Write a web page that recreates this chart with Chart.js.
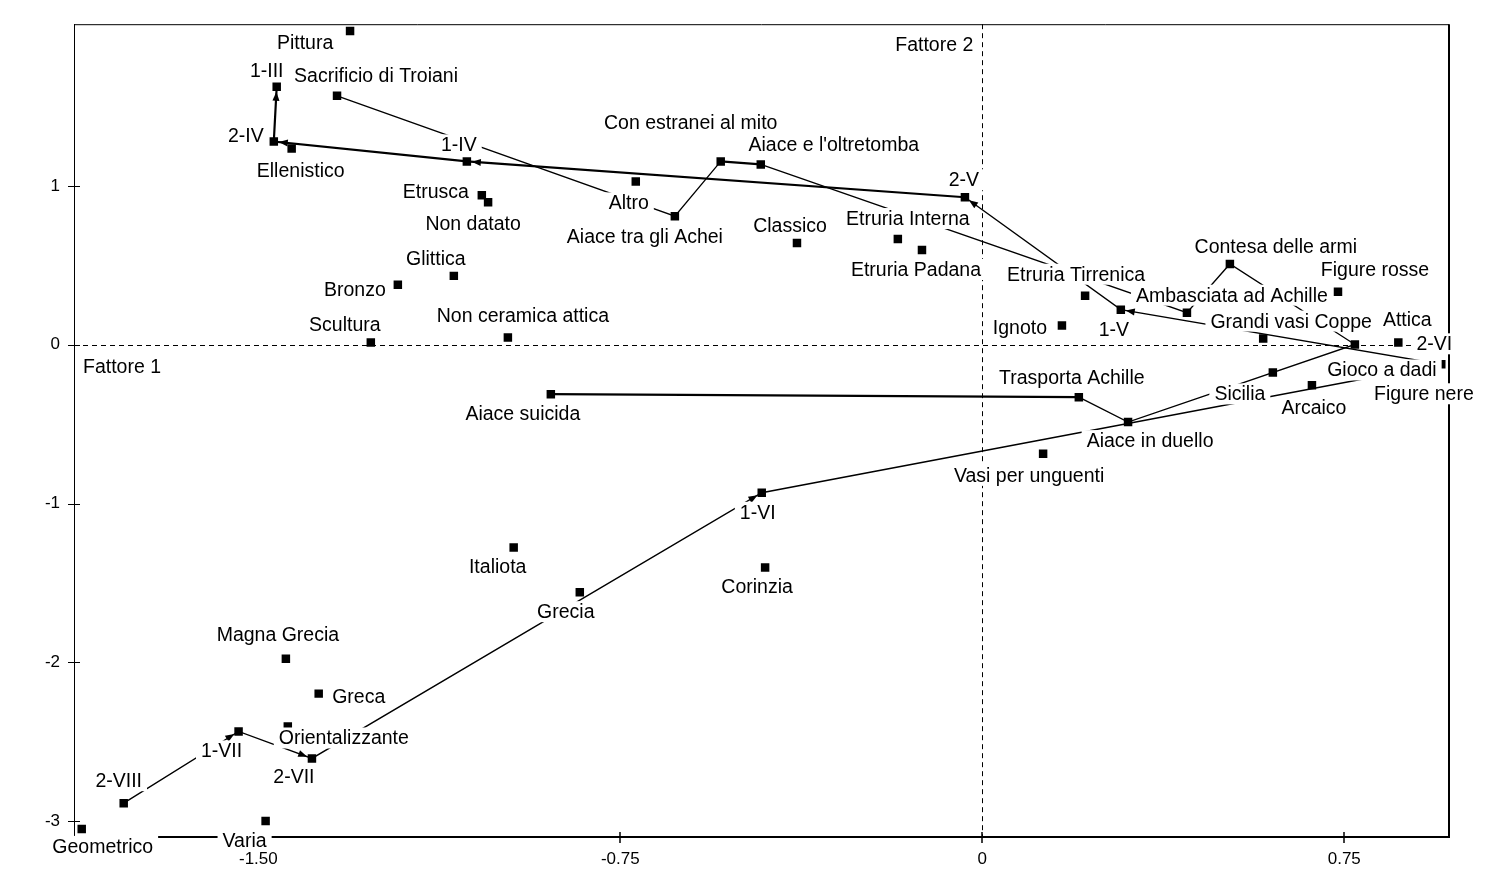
<!DOCTYPE html>
<html>
<head>
  <meta charset="utf-8">
  <title>Aiace - analisi delle corrispondenze</title>
  <script src="https://cdn.jsdelivr.net/npm/chart.js"></script>
  <style>
    body { margin: 0; background: #fff; }
    canvas { display: block; }
  </style>
</head>
<body>
<canvas id="plot" width="1501" height="885"></canvas>
<script>
  // categorie e coordinate sui due fattori
  const categorie = [
    "Pittura", "1-III", "Sacrificio di Troiani", "2-IV", "Ellenistico", "1-IV", "Altro",
    "Etrusca", "Non datato", "Con estranei al mito", "Aiace e l'oltretomba", "Aiace tra gli Achei",
    "2-V", "Classico", "Etruria Interna", "Etruria Padana", "Glittica", "Bronzo", "Scultura",
    "Non ceramica attica", "Etruria Tirrenica", "Contesa delle armi", "Figure rosse",
    "Ambasciata ad Achille", "1-V", "Ignoto", "Grandi vasi Coppe", "Gioco a dadi", "Attica",
    "2-VI", "Figure nere", "Sicilia", "Arcaico", "Trasporta Achille", "Aiace in duello",
    "Aiace suicida", "Vasi per unguenti", "1-VI", "Italiota", "Corinzia", "Grecia",
    "Magna Grecia", "Greca", "Orientalizzante", "1-VII", "2-VII", "2-VIII", "Varia", "Geometrico"
  ];
  const fattore1 = [
    -1.310, -1.462, -1.337, -1.468, -1.431, -1.068, -0.718,
    -1.037, -1.024, -0.542, -0.459, -0.637,
    -0.036, -0.384, -0.175, -0.125, -1.095, -1.211, -1.267,
    -0.983, 0.213, 0.513, 0.737,
    0.424, 0.287, 0.165, 0.582, 0.772, 0.862,
    0.951, 0.915, 0.602, 0.683, 0.200, 0.302,
    -0.894, 0.126, -0.457, -0.971, -0.450, -0.834,
    -1.443, -1.375, -1.439, -1.541, -1.389, -1.779, -1.485, -1.866
  ];
  const fattore2 = [
    1.976, 1.625, 1.568, 1.280, 1.236, 1.155, 1.029,
    0.942, 0.898, 1.155, 1.136, 0.810,
    0.929, 0.641, 0.666, 0.597, 0.434, 0.378, 0.014,
    0.046, 0.309, 0.509, 0.334,
    0.202, 0.221, 0.121, 0.039, 0.002, 0.014,
    -0.123, -0.318, -0.174, -0.255, -0.330, -0.487,
    -0.311, -0.687, -0.932, -1.276, -1.402, -1.558,
    -1.978, -2.197, -2.404, -2.435, -2.605, -2.887, -2.999, -3.049
  ];

  // traiettorie
  const periodi = ["2-VIII", "1-VII", "2-VII", "1-VI", "2-VI", "1-V", "2-V", "1-IV", "2-IV", "1-III"];
  const soggetti = ["Sacrificio di Troiani", "Aiace tra gli Achei", "Con estranei al mito",
    "Aiace e l'oltretomba", "Ambasciata ad Achille", "Contesa delle armi", "Gioco a dadi",
    "Aiace in duello", "Trasporta Achille", "Aiace suicida"];

  const xTicks = [-1.5, -0.75, 0, 0.75];
  const xTickLabels = ["-1.50", "-0.75", "0", "0.75"];
  const yTicks = [-3, -2, -1, 0, 1];
  const yTickLabels = ["-3", "-2", "-1", "0", "1"];

  // posizione delle etichette rispetto al punto (px): centro x, linea di base y
  const labelPos = {
    "Pittura": [-45, 18], "1-III": [-10, -10], "Sacrificio di Troiani": [39, -14],
    "2-IV": [-28, 0], "Ellenistico": [9, 28], "1-IV": [-8, -10], "Altro": [-7, 28],
    "Etrusca": [-46, 3], "Non datato": [-15, 28], "Con estranei al mito": [-30, -32],
    "Aiace e l'oltretomba": [73, -13], "Aiace tra gli Achei": [-30, 27], "2-V": [-1, -11],
    "Classico": [-7, -11], "Etruria Interna": [10, -14], "Etruria Padana": [-6, 26],
    "Glittica": [-18, -11], "Bronzo": [-43, 11], "Scultura": [-26, -12],
    "Non ceramica attica": [15, -15], "Etruria Tirrenica": [-9, -15],
    "Contesa delle armi": [46, -11], "Figure rosse": [37, -16], "Ambasciata ad Achille": [45, -11],
    "1-V": [-7, 26], "Ignoto": [-42, 8], "Grandi vasi Coppe": [28, -11], "Gioco a dadi": [27, 32],
    "Attica": [9, -17], "2-VI": [-7, -14], "Figure nere": [0, 5], "Sicilia": [-33, 28],
    "Arcaico": [2, 29], "Trasporta Achille": [-7, -13], "Aiace in duello": [22, 25],
    "Aiace suicida": [-28, 26], "Vasi per unguenti": [-14, 28], "1-VI": [-4, 26],
    "Italiota": [-16, 26], "Corinzia": [-8, 26], "Grecia": [-14, 26], "Magna Grecia": [-8, -18],
    "Greca": [40, 9], "Orientalizzante": [56, 18], "1-VII": [-17, 26], "2-VII": [-18, 25],
    "2-VIII": [-5, -16], "Varia": [-21, 26], "Geometrico": [21, 24]
  };
  const thickPeriodi = [6, 7, 8];
  const thickSoggetti = [2, 8];

  const FONT = '"Liberation Sans", Arial, sans-serif';
  Chart.defaults.font.family = FONT;
  Chart.defaults.color = '#000';

  function pathData(list) {
    return list.map(n => {
      const i = categorie.indexOf(n);
      return { x: fattore1[i], y: fattore2[i] };
    });
  }

  function pixelOf(chart, name) {
    const i = categorie.indexOf(name);
    return [chart.scales.x.getPixelForValue(fattore1[i]), chart.scales.y.getPixelForValue(fattore2[i])];
  }

  function arrowHead(ctx, from, to) {
    const ang = Math.atan2(to[1] - from[1], to[0] - from[0]);
    ctx.save();
    ctx.translate(to[0] - Math.cos(ang) * 5, to[1] - Math.sin(ang) * 5);
    ctx.rotate(ang);
    ctx.beginPath();
    ctx.moveTo(0, 0);
    ctx.lineTo(-9, -3.5);
    ctx.lineTo(-9, 3.5);
    ctx.closePath();
    ctx.fill();
    ctx.restore();
  }

  const frame = {
    id: 'frame',
    beforeDatasetsDraw(chart) {
      const { ctx, chartArea: a, scales: { x, y } } = chart;
      ctx.save();
      ctx.strokeStyle = '#000';
      ctx.lineWidth = 1;
      ctx.beginPath();
      ctx.moveTo(a.left, a.top + 0.5);
      ctx.lineTo(a.right, a.top + 0.5);
      ctx.stroke();
      ctx.lineWidth = 2;
      ctx.beginPath();
      ctx.moveTo(a.right, a.top);
      ctx.lineTo(a.right, a.bottom + 1);
      ctx.stroke();

      // tacche che attraversano gli assi
      ctx.lineWidth = 1.5;
      ctx.beginPath();
      x.ticks.forEach(t => {
        const p = Math.round(x.getPixelForValue(t.value));
        ctx.moveTo(p, a.bottom - 5);
        ctx.lineTo(p, a.bottom + 6);
      });
      ctx.stroke();
      ctx.lineWidth = 1;
      ctx.beginPath();
      y.ticks.forEach(t => {
        const p = Math.round(y.getPixelForValue(t.value)) + 0.5;
        ctx.moveTo(a.left - 6, p);
        ctx.lineTo(a.left + 6, p);
      });
      ctx.stroke();

      // assi dello zero tratteggiati
      ctx.setLineDash([5, 4]);
      const x0 = Math.round(x.getPixelForValue(0)) + 0.5;
      const y0 = Math.round(y.getPixelForValue(0)) + 0.5;
      ctx.beginPath();
      ctx.moveTo(x0, a.top);
      ctx.lineTo(x0, a.bottom);
      ctx.moveTo(a.left, y0);
      ctx.lineTo(a.right, y0);
      ctx.stroke();
      ctx.restore();
    },
    afterDatasetsDraw(chart) {
      const ctx = chart.ctx;
      ctx.save();
      ctx.fillStyle = '#000';
      for (let i = 1; i < periodi.length; i++) {
        arrowHead(ctx, pixelOf(chart, periodi[i - 1]), pixelOf(chart, periodi[i]));
      }
      ctx.restore();
    },
    afterDraw(chart) {
      const { ctx, chartArea: a } = chart;
      ctx.save();
      ctx.font = '19.5px ' + FONT;
      ctx.textBaseline = 'alphabetic';
      ctx.textAlign = 'center';
      categorie.forEach(n => {
        const [px, py] = pixelOf(chart, n);
        const [dx, dy] = labelPos[n];
        const w = ctx.measureText(n).width;
        const cx = px + dx, by = py + dy;
        ctx.fillStyle = '#fff';
        ctx.fillRect(cx - w / 2 - 5, by - 17, w + 10, 21);
        ctx.fillStyle = '#000';
        ctx.fillText(n, cx, by);
      });
      ctx.textAlign = 'left';
      ctx.fillText('Fattore 1', a.left + 9, chart.scales.y.getPixelForValue(0) + 28);
      ctx.textAlign = 'right';
      ctx.fillText('Fattore 2', chart.scales.x.getPixelForValue(0) - 9, a.top + 27);
      ctx.restore();
    }
  };

  new Chart(document.getElementById('plot'), {
    type: 'scatter',
    data: {
      datasets: [
        {
          data: pathData(categorie),
          pointStyle: 'rect',
          pointRadius: 6,
          pointHoverRadius: 6,
          backgroundColor: '#000',
          borderWidth: 0,
          order: 0
        },
        {
          data: pathData(periodi),
          showLine: true,
          pointRadius: 0,
          borderColor: '#000',
          borderWidth: 1.4,
          segment: { borderWidth: c => thickPeriodi.includes(c.p0DataIndex) ? 2.2 : 1.4 },
          order: 1
        },
        {
          data: pathData(soggetti),
          showLine: true,
          pointRadius: 0,
          borderColor: '#000',
          borderWidth: 1.3,
          segment: { borderWidth: c => thickSoggetti.includes(c.p0DataIndex) ? 2.2 : 1.3 },
          order: 2
        }
      ]
    },
    options: {
      responsive: false,
      animation: false,
      devicePixelRatio: 1,
      layout: { padding: { top: 20, right: 52, left: 0, bottom: 0 } },
      plugins: { legend: { display: false }, tooltip: { enabled: false } },
      scales: {
        x: {
          type: 'linear',
          min: -1.882,
          max: 0.967,
          afterBuildTicks: s => { s.ticks = xTicks.map(v => ({ value: v })); },
          afterFit: s => { s.height = 48; },
          grid: { drawOnChartArea: false, drawTicks: false },
          border: { color: '#000', width: 2 },
          ticks: {
            autoSkip: false,
            maxRotation: 0,
            padding: 12,
            font: { size: 17 },
            callback: (v, i) => xTickLabels[i]
          }
        },
        y: {
          type: 'linear',
          min: -3.100,
          max: 2.019,
          afterBuildTicks: s => { s.ticks = yTicks.map(v => ({ value: v })); },
          afterFit: s => { s.width = 74; },
          grid: { drawOnChartArea: false, drawTicks: false },
          border: { color: '#000', width: 1 },
          ticks: {
            autoSkip: false,
            padding: 14,
            font: { size: 17 },
            callback: (v, i) => yTickLabels[i]
          }
        }
      }
    },
    plugins: [frame]
  });
</script>
</body>
</html>
